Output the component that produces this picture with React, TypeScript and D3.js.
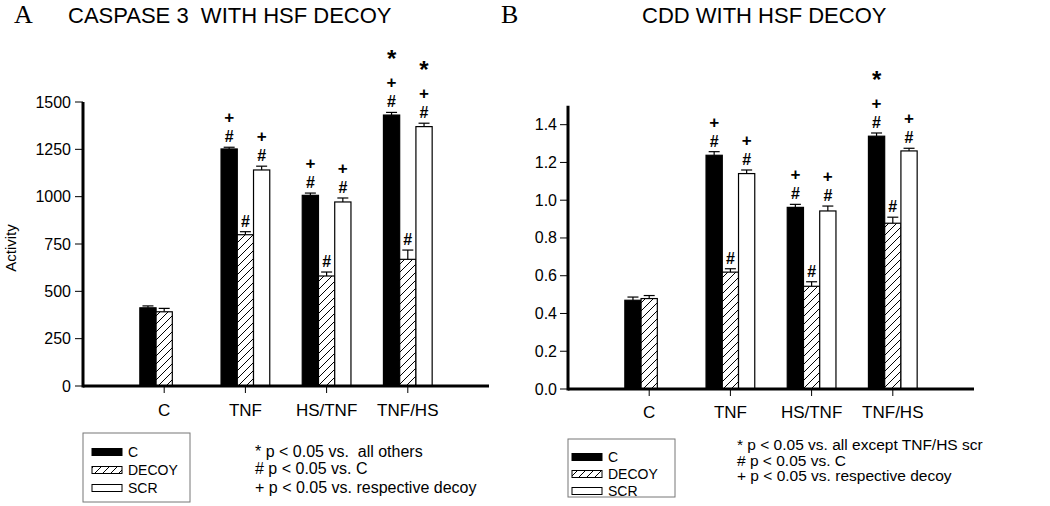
import React from "react";
import * as d3 from "d3";

const categories = ["C", "TNF", "HS/TNF", "TNF/HS"];
const seriesNames = ["C", "DECOY", "SCR"];

// Panel A: Caspase 3 activity
const caspaseC = [413, 1252, 1007, 1431];
const caspaseDecoy = [392, 799, 581, 669];
const caspaseScr = [null, 1141, 972, 1370];
const caspaseCErr = [10, 9, 12, 14];
const caspaseDecoyErr = [18, 16, 21, 49];
const caspaseScrErr = [null, 20, 21, 18];
const caspaseCMarks = ["", "#+", "#+", "#+*"];
const caspaseDecoyMarks = ["", "#", "#", "#"];
const caspaseScrMarks = ["", "#+", "#+", "#+*"];
const caspaseTicks = [0, 250, 500, 750, 1000, 1250, 1500];

// Panel B: CDD
const cddC = [0.47, 1.238, 0.962, 1.339];
const cddDecoy = [0.479, 0.619, 0.544, 0.878];
const cddScr = [null, 1.141, 0.943, 1.261];
const cddCErr = [0.017, 0.019, 0.016, 0.017];
const cddDecoyErr = [0.016, 0.018, 0.024, 0.032];
const cddScrErr = [null, 0.019, 0.026, 0.014];
const cddCMarks = ["", "#+", "#+", "#+*"];
const cddDecoyMarks = ["", "#", "#", "#"];
const cddScrMarks = ["", "#+", "#+", "#+"];
const cddTicks = [0, 0.2, 0.4, 0.6, 0.8, 1.0, 1.2, 1.4];

const legendLabels = ["C", "DECOY", "SCR"];
const notesA = ["* p < 0.05 vs.  all others", "# p < 0.05 vs. C", "+ p < 0.05 vs. respective decoy"];
const notesB = ["* p < 0.05 vs. all except TNF/HS scr", "# p < 0.05 vs. C", "+ p < 0.05 vs. respective decoy"];

const SANS = "'Liberation Sans', Arial, Helvetica, sans-serif";
const SERIF = "'Liberation Serif', 'Times New Roman', serif";
const fills = ["#000", "url(#hatch)", "#fff"];

type PanelProps = {
  x0: number; x1: number; yBottom: number; yTop: number; yMax: number; axisTop: number;
  ticks: number[]; fmt: (v: number) => string;
  values: (number | null)[][]; errors: (number | null)[][]; marks: string[][];
  labelRight: number; catY: number;
};

function Panel(p: PanelProps) {
  const x = d3.scaleBand().domain(categories).range([p.x0, p.x1]).paddingInner(0.4).paddingOuter(0.7);
  const xs = d3.scaleBand().domain(seriesNames).range([0, x.bandwidth()]);
  const y = d3.scaleLinear().domain([0, p.yMax]).range([p.yBottom, p.yTop]);
  const capW = 11;
  const bars: React.ReactNode[] = [];
  const texts: React.ReactNode[] = [];
  categories.forEach((cat, ci) => {
    seriesNames.forEach((s, si) => {
      const v = p.values[si][ci];
      if (v == null) return;
      const e = p.errors[si][ci] || 0;
      const bx = (x(cat) as number) + (xs(s) as number);
      const bw = xs.bandwidth();
      const cx = bx + bw / 2;
      bars.push(
        <g key={cat + s}>
          <line x1={cx} x2={cx} y1={y(v)} y2={y(v + e)} stroke="#000" strokeWidth={1.2} />
          <line x1={cx - capW / 2} x2={cx + capW / 2} y1={y(v + e)} y2={y(v + e)} stroke="#000" strokeWidth={1.2} />
          <rect x={bx} y={y(v)} width={bw} height={y(0) - y(v)} fill={fills[si]} stroke="#000" strokeWidth={1.2} />
        </g>
      );
      const m = p.marks[si][ci];
      const capY = y(v + e);
      if (m.includes("#"))
        texts.push(<text key={cat + s + "h"} x={cx} y={capY - 5} textAnchor="middle" fontFamily={SANS} fontWeight="bold" fontSize={16}>#</text>);
      if (m.includes("+"))
        texts.push(<text key={cat + s + "p"} x={cx} y={capY - 24} textAnchor="middle" fontFamily={SANS} fontWeight="bold" fontSize={17}>+</text>);
      if (m.includes("*"))
        texts.push(<text key={cat + s + "s"} x={cx} y={capY - 45} textAnchor="middle" fontFamily={SANS} fontWeight="bold" fontSize={24}>*</text>);
    });
  });
  const xAxisLeft = p.x0;
  return (
    <g>
      {bars}
      {texts}
      <line x1={xAxisLeft} x2={xAxisLeft} y1={y(p.axisTop)} y2={p.yBottom + 1.5} stroke="#000" strokeWidth={3} />
      {p.ticks.map((t) => (
        <g key={"t" + t}>
          <line x1={xAxisLeft - 8} x2={xAxisLeft} y1={y(t)} y2={y(t)} stroke="#000" strokeWidth={1} />
          <text x={p.labelRight} y={y(t) + 5.5} textAnchor="end" fontFamily={SANS} fontSize={16}>{p.fmt(t)}</text>
        </g>
      ))}
      <line x1={xAxisLeft} x2={p.x1} y1={p.yBottom} y2={p.yBottom} stroke="#000" strokeWidth={3} />
      {categories.map((c) => {
        const cx = (x(c) as number) + x.bandwidth() / 2;
        return (
          <g key={"c" + c}>
            <line x1={cx} x2={cx} y1={p.yBottom} y2={p.yBottom + 7} stroke="#000" strokeWidth={1} />
            <text x={cx} y={p.catY} textAnchor="middle" fontFamily={SANS} fontSize={17}>{c}</text>
          </g>
        );
      })}
    </g>
  );
}

function Legend({ x, y, w, h, rowY, swatchX, labelX }: { x: number; y: number; w: number; h: number; rowY: number[]; swatchX: number; labelX: number }) {
  return (
    <g>
      <rect x={x} y={y} width={w} height={h} fill="#fff" stroke="#777" strokeWidth={1} />
      {legendLabels.map((l, i) => (
        <g key={l}>
          <rect x={swatchX} y={rowY[i] - 3.5} width={30} height={7} fill={fills[i]} stroke="#000" strokeWidth={1} />
          <text x={labelX} y={rowY[i] + 5} fontFamily={SANS} fontSize={14}>{l}</text>
        </g>
      ))}
    </g>
  );
}

export default function App() {
  return (
    <svg width={1050} height={506} style={{ position: "absolute", left: 0, top: 0, background: "#fff" }}>
      <defs>
        <pattern id="hatch" patternUnits="userSpaceOnUse" width={8} height={8}>
          <rect width={8} height={8} fill="#fff" />
          <path d="M-2,2 l4,-4 M0,8 l8,-8 M6,10 l4,-4" stroke="#000" strokeWidth={1} />
        </pattern>
      </defs>
      <rect width={1050} height={506} fill="#fff" />
      <text x={14} y={23} fontFamily={SERIF} fontSize={26}>A</text>
      <text x={68} y={23} fontFamily={SANS} fontSize={22} style={{ whiteSpace: "pre" }}>CASPASE 3  WITH HSF DECOY</text>
      <text x={501} y={23} fontFamily={SERIF} fontSize={26}>B</text>
      <text x={642} y={23} fontFamily={SANS} fontSize={22}>CDD WITH HSF DECOY</text>
      <text transform="translate(16,248) rotate(-90)" textAnchor="middle" fontFamily={SANS} fontSize={15}>Activity</text>

      <Panel x0={83} x1={489} yBottom={386} yTop={102} yMax={1500} axisTop={1500}
        ticks={caspaseTicks} fmt={(v) => String(v)}
        values={[caspaseC, caspaseDecoy, caspaseScr]} errors={[caspaseCErr, caspaseDecoyErr, caspaseScrErr]}
        marks={[caspaseCMarks, caspaseDecoyMarks, caspaseScrMarks]} labelRight={71} catY={416} />
      <Panel x0={568} x1={974} yBottom={389} yTop={105.8} yMax={1.5} axisTop={1.5}
        ticks={cddTicks} fmt={d3.format(".1f")}
        values={[cddC, cddDecoy, cddScr]} errors={[cddCErr, cddDecoyErr, cddScrErr]}
        marks={[cddCMarks, cddDecoyMarks, cddScrMarks]} labelRight={557} catY={418} />

      <Legend x={83} y={433} w={107} h={69} rowY={[452, 470, 488]} swatchX={92} labelX={128} />
      <Legend x={568} y={439} w={107} h={58} rowY={[457, 474, 491]} swatchX={572} labelX={608} />

      {notesA.map((t, i) => (
        <text key={"na" + i} x={255} y={[457, 474, 493][i]} fontFamily={SANS} fontSize={16} style={{ whiteSpace: "pre" }}>{t}</text>
      ))}
      {notesB.map((t, i) => (
        <text key={"nb" + i} x={737} y={[450, 466, 481][i]} fontFamily={SANS} fontSize={15.5} style={{ whiteSpace: "pre" }}>{t}</text>
      ))}
    </svg>
  );
}
